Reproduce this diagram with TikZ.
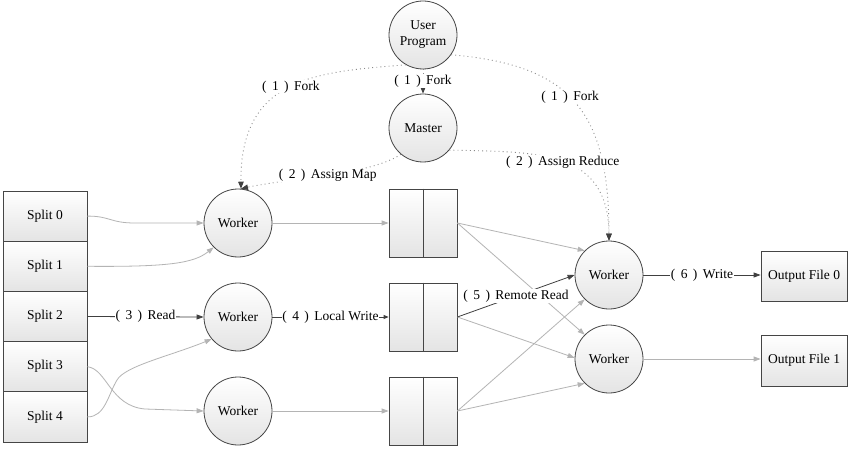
\documentclass[tikz,border=0pt]{standalone}
\usepackage{fontspec}
\setmainfont{Liberation Serif}
\usetikzlibrary{arrows.meta}
\definecolor{edgec}{HTML}{454545}
\definecolor{fillc}{HTML}{E4E4E4}
\definecolor{grayc}{HTML}{B4B4B4}
\definecolor{darkc}{HTML}{404040}
\definecolor{dotc}{HTML}{8A8A8A}
\newcommand\stepl[2]{(\hspace{0.4em}#1\hspace{0.4em})\hspace{0.4em}#2}
\begin{document}
\begin{tikzpicture}[x=1pt,y=-1pt,
  every node/.style={font=\fontsize{13.5}{16}\selectfont},
  proc/.style={circle,draw=edgec,line width=0.8pt,top color=white,bottom color=fillc,minimum size=68pt,inner sep=0pt,align=center},
  box/.style={rectangle,draw=edgec,line width=0.8pt,top color=white,bottom color=fillc,inner sep=0pt},
  gline/.style={draw=grayc,line width=0.8pt,-{Triangle[length=7pt,width=5pt]}},
  dline/.style={draw=darkc,line width=0.8pt,-{Triangle[length=7pt,width=5pt]}},
  dotline/.style={draw=dotc,line width=0.9pt,dash pattern=on 0.9pt off 3.2pt,-{Triangle[length=7pt,width=5.5pt,fill=darkc,color=darkc]}},
  lab/.style={fill=white,inner sep=0.5pt}
]
\useasboundingbox[fill=white] (0,0) rectangle (850,449);

% process circles
\node[proc] (up) at (423,35) {User\\Program};
\node[proc] (ma) at (423,128) {Master};
\node[proc] (w1) at (238,223) {Worker};
\node[proc] (w2) at (238,317) {Worker};
\node[proc] (w3) at (238,411) {Worker};
\node[proc] (r1) at (609,275) {Worker};
\node[proc] (r2) at (609,359) {Worker};

% splits
\node[box,minimum width=84pt,minimum height=50.2pt] (s0) at (45,216.1) {Split 0};
\node[box,minimum width=84pt,minimum height=50.2pt] (s1) at (45,266.3) {Split 1};
\node[box,minimum width=84pt,minimum height=50.2pt] (s2) at (45,316.5) {Split 2};
\node[box,minimum width=84pt,minimum height=50.2pt] (s3) at (45,366.7) {Split 3};
\node[box,minimum width=84pt,minimum height=50.2pt] (s4) at (45,416.9) {Split 4};

% buffers
\node[box,minimum width=68pt,minimum height=68pt] (b1) at (423,223) {};
\node[box,minimum width=68pt,minimum height=68pt] (b2) at (423,317) {};
\node[box,minimum width=68pt,minimum height=68pt] (b3) at (423,411) {};
\draw[edgec,line width=0.8pt] (b1.north) -- (b1.south);
\draw[edgec,line width=0.8pt] (b2.north) -- (b2.south);
\draw[edgec,line width=0.8pt] (b3.north) -- (b3.south);

% outputs
\node[box,minimum width=86pt,minimum height=50pt] (o0) at (804,276) {Output File 0};
\node[box,minimum width=86pt,minimum height=51pt] (o1) at (804,360.5) {Output File 1};

% split -> workers
\draw[gline] (s0.east) .. controls (110,216) and (110,223) .. (135,223) -- (w1.west);
\draw[gline] (s1.east) .. controls (170,267) and (194,263) .. (w1.225);
\draw[gline] (s3.east) .. controls (107,369) and (110,406) .. (145,409) -- (w3.west);
\draw[gline] (s4.east) .. controls (105,417) and (108,395) .. (117,380) .. controls (125,366) and (170,356) .. (w2.220);
\draw[dline] (s2.east) -- node[lab]{\stepl{3}{Read}} (w2.west);

% workers -> buffers
\draw[gline] (w1.east) -- (b1.west);
\draw[gline] (w3.east) -- (b3.west);
\draw[draw=darkc,line width=0.8pt,-{Triangle[length=5pt,width=4pt]}] (w2.east) -- node[lab]{\stepl{4}{Local Write}} (b2.west);

% buffers -> reducers
\draw[gline] (b1.east) -- (r1.135);
\draw[gline] (b1.east) -- (r2.135);
\draw[gline] (b2.east) -- (r2.178);
\draw[gline] (b3.east) -- (r1.225);
\draw[gline] (b3.east) -- (r2.225);
\draw[dline] (b2.east) -- node[lab]{\stepl{5}{Remote Read}} (r1.west);

% reducers -> outputs
\draw[dline] (r1.east) -- node[lab]{\stepl{6}{Write}} (r1.east -| o0.west);
\draw[gline] (r2.east) -- (r2.east -| o1.west);

% control (dotted)
\draw[dotline] (up.240) .. controls (320,72) and (240,75) .. node[lab,pos=0.5]{\stepl{1}{Fork}} (w1.85);
\draw[dotline] (up.south) -- node[lab]{\stepl{1}{Fork}} (ma.north);
\draw[dotline] (up.-35) .. controls (570,65) and (609,110) .. node[lab,pos=0.47]{\stepl{1}{Fork}} (r1.north);
\draw[dotline] (ma.230) .. controls (370,175) and (290,178) .. node[lab,pos=0.5]{\stepl{2}{Assign Map}} (w1.85);
\draw[dotline] (ma.-40) .. controls (540,152) and (608,150) .. node[lab,pos=0.5]{\stepl{2}{Assign Reduce}} (r1.north);
\end{tikzpicture}
\end{document}
